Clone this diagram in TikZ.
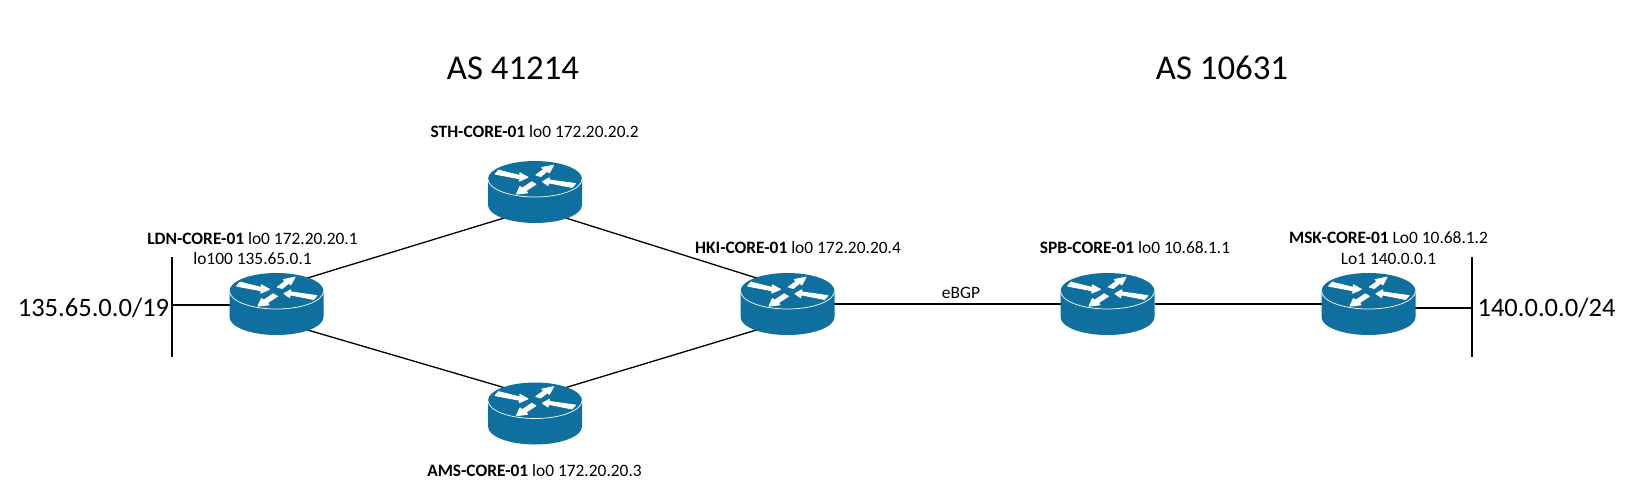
\documentclass[tikz,border=0pt]{standalone}
\usepackage{fontspec}
\setmainfont{Carlito}
\usetikzlibrary{shapes}
\pgfdeclarelayer{background}
\pgfsetlayers{background,main}
\definecolor{routerblue}{HTML}{0F6F9F}
\tikzstyle{router}=[ellipse,minimum width=1.88cm,minimum height=1.24cm,inner sep=0pt,outer sep=0pt]
\tikzstyle{link}=[draw,line width=0.75pt,-]
\tikzstyle{arrowmark}=[fill=white,draw=white,line width=0.7pt,line join=round]
\tikzstyle{hostlabel}=[align=center,inner sep=0pt,font=\fontsize{9.9}{11.9}\selectfont]
\tikzstyle{biglabel}=[inner sep=0pt,font=\fontsize{15.1}{18}\selectfont]
\tikzstyle{aslabel}=[inner sep=0pt,font=\fontsize{19.8}{22}\selectfont]
\tikzset{routericon/.pic={
    \fill[routerblue] (-47,-13) arc[start angle=180,end angle=360,x radius=47,y radius=18]
        -- (47,13) arc[start angle=0,end angle=180,x radius=47,y radius=18] -- cycle;
    \draw[white,line width=0.4pt] (-47,-13) arc[start angle=180,end angle=0,x radius=47,y radius=18];
    \path[arrowmark] (-39.7,-18) -- (-36.3,-21.7) -- (-15,-16.3) -- (-15,-19) -- (-7.3,-14.7) -- (-15.7,-11) -- (-15,-13.3) -- cycle;
    \path[arrowmark] (1,-17) -- (9,-22.7) -- (7,-24.3) -- (18.3,-26.7) -- (14.3,-19.3) -- (12.3,-21) -- (5.7,-15.7) -- cycle;
    \path[arrowmark] (7.7,-10.3) -- (14.3,-14) -- (13.7,-12) -- (40.3,-8.3) -- (37,-4.7) -- (13.7,-9.3) -- (13,-6.7) -- cycle;
    \path[arrowmark] (-18.3,2) -- (-15,-5.3) -- (-12.7,-3.7) -- (-3.3,-10) -- (0.7,-7.7) -- (-9.3,-1.3) -- (-7.7,0.7) -- cycle;
}}

\begin{document}
\begin{tikzpicture}[x=0.02cm,y=-0.02cm]
    \useasboundingbox (0,0) rectangle (1651,484);
    % First we draw the routers
    \foreach \pos/\name in {{(276.5,304)/LDN}, {(535,192)/STH}, {(535,413.5)/AMS}, {(787.5,304)/HKI}, {(1107.5,304)/SPB}, {(1368.5,304)/MSK}}
        \node[router] (\name) at \pos {};
    % The two networks at the ends
    \coordinate (ldnnet) at (172,305);
    \coordinate (ldntop) at (172,257);
    \coordinate (ldnbot) at (172,357);
    \coordinate (msknet) at (1472,308);
    \coordinate (msktop) at (1472,257);
    \coordinate (mskbot) at (1472,357);
    % Connect routers with links
    \begin{pgfonlayer}{background}
    \foreach \source/\dest in {LDN.42/STH.222, STH.-42/HKI.138, LDN.-42/AMS.138, AMS.42/HKI.-138, HKI/SPB, SPB/MSK}
        \path[link] (\source) -- (\dest);
    \path[link] (ldntop) -- (ldnbot);
    \path[link] (msktop) -- (mskbot);
    \path[link] (ldnnet) -- (ldnnet -| LDN);
    \path[link] (msknet) -- (msknet -| MSK);
    \end{pgfonlayer}
    \foreach \name in {LDN, STH, AMS, HKI, SPB, MSK}
        \pic at (\name) {routericon};
    % Labels
    \foreach \pos/\name/\host/\addr in {{(534.7,132)/sthlabel/STH-CORE-01/lo0 172.20.20.2}, {(534.5,471)/amslabel/AMS-CORE-01/lo0 172.20.20.3}, {(798,248)/hkilabel/HKI-CORE-01/lo0 172.20.20.4}, {(1135,248)/spblabel/SPB-CORE-01/lo0 10.68.1.1}, {(252.5,248.5)/ldnlabel/LDN-CORE-01/lo0 172.20.20.1\\lo100 135.65.0.1}, {(1388.5,248.5)/msklabel/MSK-CORE-01/Lo0 10.68.1.2\\Lo1 140.0.0.1}}
        \node[hostlabel] (\name) at \pos {\textbf{\host} \addr};
    \node[hostlabel] (ebgp) at (961,293) {eBGP};
    \node[aslabel] (as41214) at (513,68) {AS 41214};
    \node[aslabel] (as10631) at (1222,68) {AS 10631};
    \node[biglabel] (ldnprefix) at (93.5,308) {135.65.0.0/19};
    \node[biglabel] (mskprefix) at (1546.5,308) {140.0.0.0/24};
\end{tikzpicture}
\end{document}
